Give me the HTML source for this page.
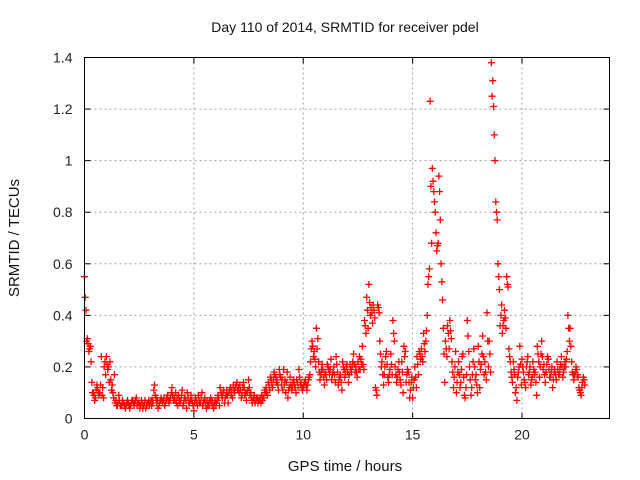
<!DOCTYPE html>
<html><head><meta charset="utf-8"><style>
body{margin:0;background:#fff;}
svg{display:block;font-family:"Liberation Sans",sans-serif;}
</style></head><body>
<svg id="chart" width="640" height="480" viewBox="0 0 640 480">
<text x="345" y="32" font-size="14" text-anchor="middle" fill="#111">Day 110 of 2014, SRMTID for receiver pdel</text>
<text transform="translate(19,238) rotate(-90)" font-size="15" text-anchor="middle" fill="#111">SRMTID / TECUs</text>
<text x="345" y="471" font-size="15" text-anchor="middle" fill="#111">GPS time / hours</text>
<g id="grid"></g>
<g id="marks"></g>
<rect x="84.5" y="57.5" width="525" height="361" fill="none" stroke="#000" stroke-width="1"/>
<g id="ticks"></g>
</svg>
<script>
const xTicks=[0,5,10,15,20];
const yTicks=[0,0.2,0.4,0.6,0.8,1,1.2,1.4];
const yTickLabels=["0","0.2","0.4","0.6","0.8","1","1.2","1.4"];
const startHour=0, stepHour=0.1;
const seriesA=[
0.55,0.30,0.26,0.22,0.10,0.08,0.12,0.10,0.09,0.20,
0.24,0.20,0.15,0.10,0.06,0.05,0.07,0.05,0.06,0.05,
0.06,0.05,0.07,0.06,0.05,0.06,0.07,0.05,0.04,0.06,
0.06,0.07,0.13,0.06,0.05,0.08,0.07,0.06,0.09,0.07,
0.12,0.08,0.06,0.09,0.07,0.05,0.08,0.10,0.06,0.07,
0.03,0.07,0.09,0.06,0.05,0.08,0.07,0.05,0.06,0.04,
0.05,0.09,0.12,0.08,0.06,0.11,0.10,0.09,0.13,0.12,
0.11,0.13,0.09,0.12,0.07,0.15,0.10,0.07,0.06,0.08,
0.07,0.09,0.08,0.12,0.14,0.16,0.12,0.17,0.15,0.19,
0.13,0.19,0.10,0.08,0.16,0.12,0.13,0.15,0.19,0.14,
0.12,0.15,0.13,0.17,0.30,0.26,0.35,0.22,0.17,0.19,
0.18,0.21,0.17,0.15,0.20,0.24,0.13,0.17,0.22,0.16,
0.21,0.17,0.18,0.25,0.20,0.22,0.19,0.28,0.38,0.47,
0.52,0.43,0.44,0.12,0.44,0.30,0.22,0.17,0.26,0.14,
0.25,0.38,0.20,0.16,0.18,0.22,0.28,0.14,0.18,0.11,
0.08,0.20,0.24,0.26,0.27,0.33,0.30,0.52,1.23,0.97,
0.84,0.65,0.94,0.60,0.35,0.30,0.36,0.38,0.22,0.16,
0.10,0.22,0.14,0.25,0.08,0.38,0.20,0.12,0.27,0.17,
0.28,0.19,0.32,0.22,0.41,0.30,1.38,1.21,0.84,0.60,
0.36,0.33,0.42,0.55,0.27,0.18,0.22,0.10,0.16,0.28,
0.23,0.15,0.20,0.17,0.13,0.22,0.18,0.28,0.16,0.30,
0.21,0.18,0.23,0.16,0.12,0.19,0.22,0.17,0.24,0.18,
0.20,0.40,0.35,0.18,0.17,0.19,0.12,0.09,0.16];
const seriesB=[
0.42,0.29,0.28,0.10,0.07,0.13,0.09,0.24,0.08,0.17,
0.19,0.22,0.13,0.17,0.05,0.09,0.05,0.06,0.04,0.07,
0.04,0.07,0.05,0.08,0.06,0.05,0.04,0.07,0.06,0.05,
0.05,0.11,0.08,0.04,0.07,0.06,0.05,0.08,0.06,0.10,
0.07,0.10,0.05,0.06,0.11,0.08,0.04,0.06,0.09,0.05,
0.08,0.05,0.06,0.10,0.07,0.04,0.06,0.08,0.05,0.07,
0.07,0.05,0.09,0.11,0.09,0.06,0.12,0.08,0.10,0.14,
0.10,0.08,0.14,0.10,0.11,0.09,0.06,0.09,0.08,0.07,
0.06,0.08,0.10,0.09,0.11,0.13,0.18,0.14,0.11,0.16,
0.11,0.15,0.18,0.12,0.11,0.15,0.10,0.12,0.13,0.11,
0.14,0.11,0.16,0.27,0.24,0.20,0.31,0.15,0.21,0.13,
0.15,0.19,0.23,0.18,0.14,0.18,0.16,0.11,0.19,0.20,
0.14,0.19,0.22,0.18,0.16,0.24,0.21,0.19,0.33,0.35,
0.40,0.37,0.39,0.09,0.41,0.20,0.13,0.24,0.16,0.19,
0.17,0.30,0.14,0.22,0.13,0.10,0.26,0.19,0.08,0.16,
0.15,0.12,0.17,0.23,0.22,0.26,0.40,0.58,0.68,0.88,
0.72,0.68,0.77,0.46,0.14,0.24,0.27,0.31,0.12,0.26,
0.18,0.12,0.24,0.09,0.17,0.26,0.09,0.22,0.15,0.10,
0.12,0.25,0.17,0.15,0.20,0.18,1.31,1.00,0.77,0.50,
0.44,0.38,0.35,0.51,0.22,0.14,0.17,0.07,0.20,0.13,
0.18,0.12,0.24,0.20,0.16,0.17,0.09,0.22,0.25,0.19,
0.14,0.24,0.16,0.20,0.18,0.15,0.17,0.21,0.16,0.22,
0.26,0.30,0.22,0.15,0.20,0.16,0.10,0.14,0.13];
const seriesC=[
0.47,0.31,0.27,0.14,0.09,0.11,0.10,0.13,0.12,0.22,
0.21,0.14,0.11,0.08,0.07,0.06,0.05,0.07,0.05,0.06,
0.05,0.06,0.06,0.07,0.06,0.04,0.06,0.06,0.05,0.07,
0.07,0.06,0.09,0.07,0.06,0.07,0.08,0.07,0.07,0.08,
0.09,0.07,0.08,0.07,0.09,0.06,0.07,0.08,0.07,0.06,
0.06,0.06,0.07,0.08,0.06,0.06,0.05,0.07,0.07,0.06,
0.06,0.08,0.10,0.10,0.08,0.09,0.11,0.11,0.11,0.13,
0.12,0.11,0.12,0.09,0.10,0.12,0.08,0.08,0.07,0.06,
0.08,0.07,0.11,0.10,0.13,0.15,0.15,0.16,0.13,0.17,
0.15,0.13,0.14,0.11,0.13,0.14,0.12,0.14,0.16,0.12,
0.13,0.13,0.15,0.22,0.28,0.23,0.27,0.18,0.19,0.16,
0.17,0.20,0.19,0.17,0.17,0.21,0.15,0.14,0.20,0.18,
0.18,0.21,0.20,0.21,0.18,0.19,0.23,0.21,0.36,0.42,
0.45,0.41,0.42,0.11,0.43,0.25,0.17,0.20,0.21,0.17,
0.21,0.33,0.17,0.19,0.15,0.18,0.24,0.17,0.14,0.14,
0.12,0.16,0.21,0.25,0.24,0.29,0.34,0.55,0.90,0.92,
0.80,0.67,0.88,0.53,0.25,0.27,0.33,0.34,0.18,0.20,
0.14,0.17,0.19,0.16,0.12,0.32,0.15,0.17,0.20,0.13,
0.22,0.21,0.24,0.18,0.30,0.25,1.25,1.10,0.80,0.55,
0.40,0.36,0.39,0.52,0.24,0.16,0.19,0.12,0.18,0.21,
0.20,0.14,0.22,0.18,0.15,0.19,0.14,0.25,0.20,0.24,
0.17,0.21,0.19,0.18,0.15,0.17,0.19,0.19,0.20,0.20,
0.23,0.35,0.28,0.17,0.18,0.17,0.11,0.12,0.15];

const X0=84.5,X1=609.5,Y0=418.5,Y1=57.5,XMAX=24,YMAX=1.4;
const sx=v=>X0+(v/XMAX)*(X1-X0);
const sy=v=>Y0-(v/YMAX)*(Y0-Y1);
const NS='http://www.w3.org/2000/svg';
const grid=document.getElementById('grid'),ticks=document.getElementById('ticks'),marks=document.getElementById('marks');
function mk(tag,attrs,parent){const e=document.createElementNS(NS,tag);for(const k in attrs)e.setAttribute(k,attrs[k]);parent.appendChild(e);return e;}
xTicks.forEach((t,i)=>{
  const x=sx(t);
  if(i>0){const g=mk('line',{x1:x,y1:Y1,x2:x,y2:Y0,stroke:'#a0a0a0','stroke-dasharray':'2,3'},grid);
  
  }
  mk('line',{x1:x,y1:Y0,x2:x,y2:Y0-6,stroke:'#000'},ticks);
  mk('line',{x1:x,y1:Y1,x2:x,y2:Y1+6,stroke:'#000'},ticks);
  const l=mk('text',{x:x,y:Y0+21,'font-size':14,'text-anchor':'middle',fill:'#222'},ticks);
  l.textContent=String(t);
  
  
});
yTicks.forEach((t,i)=>{
  const y=sy(t);
  if(i>0&&i<yTicks.length-1){const g=mk('line',{x1:X0,y1:y,x2:X1,y2:y,stroke:'#a0a0a0','stroke-dasharray':'2,3'},grid);
  
  }
  mk('line',{x1:X0,y1:y,x2:X0+6,y2:y,stroke:'#000'},ticks);
  mk('line',{x1:X1,y1:y,x2:X1-6,y2:y,stroke:'#000'},ticks);
  const l=mk('text',{x:X0-12,y:y+5,'font-size':14,'text-anchor':'end',fill:'#222'},ticks);
  l.textContent=yTickLabels[i];
  
  
});
let d='';
function plus(t,v){const x=sx(t),y=sy(v);d+=`M${(x-3.5).toFixed(1)} ${y.toFixed(1)}h7M${x.toFixed(1)} ${(y-3.5).toFixed(1)}v7`;}
seriesA.forEach((v,i)=>plus(startHour+i*stepHour,v));
seriesC.forEach((v,i)=>plus(startHour+i*stepHour+stepHour/3,v));
seriesB.forEach((v,i)=>plus(startHour+i*stepHour+2*stepHour/3,v));
const p=mk('path',{d:d,stroke:'#ff0000','stroke-width':1.3,fill:'none'},marks);


</script>
</body></html>
